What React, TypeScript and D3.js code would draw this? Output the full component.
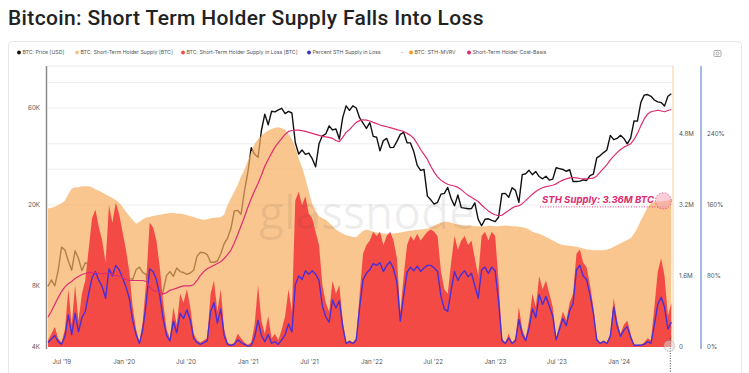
import React from 'react';
import * as d3 from 'd3';

// sampled every 10 days starting 21 May 2019
const startDate = new Date(2019, 4, 21);
const stepDays = 10;

// BTC price [USD]
const btcPrice = [
  7950, 8550, 8000, 9500, 12400, 12000, 10600, 9550, 11900, 10900,
  9500, 10400, 10200, 8200, 8200, 7950, 9250, 9200, 8500, 7500,
  7500, 6650, 7250, 7750, 8700, 8600, 9600, 9900, 9300, 9100,
  5000, 6700, 6800, 6650, 7550, 9000, 9400, 8900, 9800, 9400,
  9300, 9100, 9250, 9550, 11200, 11700, 11650, 11400, 10450, 10450,
  10600, 11500, 12900, 13750, 15300, 18700, 18800, 18000, 23500, 29000,
  38300, 35500, 34300, 46500, 56000, 49600, 57800, 57400, 58800, 59800,
  56300, 57700, 56700, 40600, 35600, 37300, 35500, 36000, 33800, 30800,
  40000, 43800, 44700, 49000, 46800, 47300, 42200, 53800, 61500, 58400,
  61500, 60000, 53600, 50600, 47600, 50800, 43500, 43100, 36900, 41500,
  42500, 38300, 38400, 41100, 44500, 45500, 40500, 40400, 36500, 31300,
  29600, 29900, 22100, 21200, 20200, 20600, 22600, 22800, 24400, 21500,
  19800, 22400, 19400, 19300, 19150, 19200, 20500, 17000, 15800, 17000,
  17100, 16800, 16550, 17400, 22700, 22800, 21800, 24300, 23600, 20600,
  28200, 28500, 29600, 28200, 29200, 27600, 26900, 27700, 26500, 26800,
  30500, 30200, 29900, 29300, 29800, 26100, 26100, 26200, 26600, 26400,
  27900, 28400, 34100, 35000, 36200, 37300, 44000, 41900, 42500, 44100,
  42500, 40000, 42600, 51800, 51700, 63800, 69400, 69900, 68500, 65700,
  64300, 63800, 61300, 68500, 70500,
];

// Short-Term Holder cost basis [USD]
const sthCostBasis = [
  5600, 6000, 6500, 7000, 7500, 7900, 8200, 8400, 8700, 8900,
  9100, 9200, 9300, 9300, 9300, 9200, 9200, 9200, 9200, 9100,
  9000, 8900, 8800, 8600, 8500, 8500, 8500, 8500, 8500, 8400,
  7900, 7600, 7500, 7400, 7300, 7400, 7600, 7700, 7800, 7900,
  8000, 8000, 8000, 8100, 8500, 9000, 9400, 9700, 9900, 10100,
  10300, 10500, 10900, 11400, 12000, 13000, 14300, 15800, 17500, 19500,
  21500, 23500, 25500, 28000, 31000, 33500, 36000, 38500, 40500, 42500,
  44500, 46000, 46500, 46700, 46700, 46400, 46000, 45500, 45000, 44500,
  44000, 43500, 43300, 43000, 42500, 41500, 41000, 43000, 45500, 47000,
  49000, 51000, 52000, 52500, 52300, 51800, 51000, 50300, 49500, 49000,
  48500, 48000, 47500, 47000, 46500, 46000, 45000, 44000, 42500, 40000,
  37500, 35500, 33500, 31000, 29000, 27500, 26500, 25800, 25300, 25000,
  24800, 24400, 23800, 23000, 22300, 21800, 21300, 20800, 20000, 19300,
  18700, 18200, 17900, 17700, 17800, 18300, 18800, 19300, 19700, 19800,
  20300, 21000, 21800, 22600, 23300, 23900, 24300, 24600, 24800, 25000,
  25400, 26000, 26500, 26900, 27200, 27300, 27200, 27000, 26900, 26900,
  27000, 27100, 27800, 29000, 30300, 31600, 33300, 34800, 36200, 37500,
  38500, 39200, 40000, 42000, 45000, 49000, 53000, 56000, 57500, 58000,
  58500, 58000, 57500, 58300, 59000,
];

// Short-Term Holder supply [M BTC]
const sthSupply = [
  3.12, 3.14, 3.16, 3.2, 3.24, 3.3, 3.45, 3.57, 3.6, 3.6,
  3.62, 3.62, 3.62, 3.6, 3.55, 3.52, 3.48, 3.44, 3.4, 3.36,
  3.31, 3.25, 3.16, 3.05, 2.95, 2.86, 2.78, 2.82, 2.88, 2.92,
  2.93, 2.95, 2.97, 2.98, 3.0, 3.01, 3.02, 3.02, 3.01, 3.01,
  2.99, 2.97, 2.95, 2.93, 2.9, 2.88, 2.87, 2.88, 2.9, 2.91,
  2.92, 2.93, 2.98, 3.2, 3.35, 3.5, 3.65, 3.85, 4.0, 4.2,
  4.4, 4.58, 4.68, 4.76, 4.83, 4.88, 4.91, 4.94, 4.95, 4.93,
  4.9, 4.8, 4.68, 4.5, 4.25, 4.05, 3.8, 3.5, 3.22, 3.05,
  2.95, 2.9, 2.87, 2.8, 2.72, 2.65, 2.6, 2.56, 2.52, 2.5,
  2.48, 2.48, 2.55, 2.62, 2.64, 2.63, 2.6, 2.58, 2.57, 2.56,
  2.55, 2.55, 2.56, 2.57, 2.58, 2.6, 2.61, 2.62, 2.63, 2.64,
  2.65, 2.66, 2.67, 2.7, 2.74, 2.77, 2.8, 2.82, 2.82, 2.8,
  2.78, 2.76, 2.75, 2.74, 2.74, 2.73, 2.72, 2.72, 2.71, 2.72,
  2.73, 2.73, 2.72, 2.72, 2.73, 2.74, 2.73, 2.72, 2.72, 2.71,
  2.7, 2.68, 2.65, 2.6, 2.57, 2.55, 2.52, 2.48, 2.44, 2.4,
  2.36, 2.32, 2.3, 2.29, 2.28, 2.27, 2.26, 2.24, 2.22, 2.2,
  2.19, 2.18, 2.18, 2.18, 2.18, 2.2, 2.22, 2.26, 2.3, 2.34,
  2.38, 2.41, 2.45, 2.55, 2.68, 2.85, 3.0, 3.15, 3.24, 3.27,
  3.28, 3.28, 3.29, 3.3, 3.33,
];

// Short-Term Holder supply in loss [M BTC]
const sthLoss = [
  0.15, 0.3, 0.45, 0.2, 0.1, 0.4, 1.3, 0.5, 1.4, 0.6,
  1.2, 1.5, 2.2, 2.9, 3.1, 2.7, 2.4, 1.9, 3.2, 2.8,
  3.25, 3.0, 2.6, 2.2, 1.7, 0.9, 0.4, 0.1, 0.6, 1.5,
  2.8, 2.7, 2.4, 1.8, 1.0, 0.4, 0.2, 0.9, 0.5, 1.2,
  1.0, 1.3, 0.9, 0.3, 0.15, 0.1, 0.15, 0.2, 1.2, 1.5,
  0.8, 1.3, 0.4, 0.1, 0.05, 0.1, 0.3, 0.2, 0.1, 0.05,
  0.1, 0.5, 1.4, 0.6, 0.3, 0.7, 0.2, 0.3, 0.15, 0.4,
  0.7, 1.3, 0.8, 3.3, 3.5, 3.2, 3.4, 3.0, 2.9, 2.6,
  2.3, 1.4, 1.0, 0.8, 1.5, 1.2, 1.4, 0.6, 0.1, 0.15,
  0.1, 0.2, 1.2, 2.1, 2.3, 2.4, 2.6, 2.5, 2.6, 2.3,
  2.5, 2.6, 2.4, 2.0, 0.8, 1.6, 2.3, 2.5, 2.4, 2.55,
  2.4, 2.5, 2.6, 2.65, 2.6, 2.5, 1.7, 1.3, 1.2, 1.9,
  2.5, 2.2, 2.4, 2.5, 2.3, 2.4, 2.0, 1.6, 2.5, 2.6,
  2.4, 2.6, 2.5, 1.5, 0.2, 0.1, 0.3, 0.1, 0.2, 0.9,
  0.4, 0.2, 0.6, 1.2, 0.9, 1.6, 1.3, 1.5, 1.2, 0.9,
  0.2, 0.5, 0.8, 0.6, 1.0, 1.2, 2.1, 2.2, 1.9, 1.8,
  1.4, 0.9, 0.2, 0.1, 0.15, 0.1, 0.3, 1.1, 0.6, 0.3,
  0.5, 0.6, 0.3, 0.05, 0.05, 0.05, 0.1, 0.2, 0.15, 0.9,
  1.7, 2.0, 1.6, 0.7, 1.0,
];

// Percent STH supply in loss [%]
const pctInLoss = [
  5, 9, 13, 6, 3, 12, 36, 14, 38, 17,
  33, 40, 60, 78, 85, 75, 68, 55, 88, 80,
  92, 87, 78, 68, 55, 30, 14, 4, 20, 50,
  88, 85, 76, 58, 32, 13, 7, 29, 16, 38,
  32, 42, 30, 10, 5, 3, 5, 7, 40, 50,
  27, 43, 13, 3, 2, 3, 8, 5, 3, 1,
  2, 11, 30, 13, 6, 14, 4, 6, 3, 8,
  14, 26, 17, 70, 80, 76, 86, 82, 86, 82,
  75, 46, 34, 28, 53, 44, 52, 23, 4, 6,
  4, 8, 45, 76, 83, 87, 94, 92, 95, 85,
  92, 96, 88, 73, 29, 58, 84, 90, 86, 91,
  85, 89, 92, 92, 89, 85, 57, 43, 40, 64,
  85, 75, 82, 86, 79, 83, 69, 55, 87, 90,
  83, 90, 86, 52, 7, 4, 10, 4, 7, 31,
  14, 7, 21, 43, 33, 59, 48, 57, 46, 35,
  8, 20, 32, 24, 41, 49, 87, 92, 80, 76,
  59, 38, 8, 4, 6, 4, 12, 45, 24, 12,
  19, 23, 11, 2, 2, 2, 3, 6, 4, 25,
  48, 56, 45, 20, 28,
];

const priceTicks = [60000, 20000, 8000, 4000];
const priceTickLabels = ['60K', '20K', '8K', '4K'];
const priceGrid = [80000, 60000, 40000, 30000, 20000];
const supplyTicks = [0, 1.6, 3.2, 4.8];
const supplyTickLabels = ['0', '1.6M', '3.2M', '4.8M'];
const pctTicks = [0, 80, 160, 240];
const pctTickLabels = ['0%', '80%', '160%', '240%'];
const xTickDates = [
  new Date(2019, 6, 1), new Date(2020, 0, 1), new Date(2020, 6, 1), new Date(2021, 0, 1),
  new Date(2021, 6, 1), new Date(2022, 0, 1), new Date(2022, 6, 1), new Date(2023, 0, 1),
  new Date(2023, 6, 1), new Date(2024, 0, 1),
];
const xTickLabels = ["Jul '19", "Jan '20", "Jul '20", "Jan '21", "Jul '21", "Jan '22", "Jul '22", "Jan '23", "Jul '23", "Jan '24"];

const legendLabels = [
  'BTC: Price [USD]',
  'BTC: Short-Term Holder Supply [BTC]',
  'BTC: Short-Term Holder Supply in Loss [BTC]',
  'Percent STH Supply in Loss',
  'BTC: STH-MVRV',
  'Short-Term Holder Cost-Basis',
];
const legendColors = ['#111111', '#f9c48c', '#f04a4a', '#3535c8', '#f0952a', '#e0206e'];
const legendX = [19, 77, 183, 309, 411, 469];

const W = 749;
const H = 373;
const plot = { left: 48, right: 673, top: 66, bottom: 347 };
const font = 'Inter, "Noto Sans", sans-serif';

const App: React.FC = () => {
  const dates = btcPrice.map((_, i) => d3.timeDay.offset(startDate, i * stepDays));

  const x = d3.scaleTime().domain([startDate, new Date(2024, 5, 8)]).range([plot.left, plot.right]);
  const yPrice = d3.scaleLog().domain([4000, 60000]).range([plot.bottom, 108]);
  const ySupply = d3.scaleLinear().domain([0, 3.2]).range([plot.bottom, 205]);
  const yPct = d3.scaleLinear().domain([0, 160]).range([plot.bottom, 205]);

  const idx = d3.range(dates.length);
  const priceLine = d3.line<number>().x((i) => x(dates[i])).y((i) => yPrice(btcPrice[i]))(idx) || '';
  const costLine = d3.line<number>().x((i) => x(dates[i])).y((i) => yPrice(sthCostBasis[i]))(idx) || '';
  const supplyArea = d3.area<number>().x((i) => x(dates[i])).y0(ySupply(0)).y1((i) => ySupply(sthSupply[i]))(idx) || '';
  const lossArea = d3.area<number>().x((i) => x(dates[i])).y0(ySupply(0)).y1((i) => ySupply(sthLoss[i]))(idx) || '';
  const pctLine = d3.line<number>().x((i) => x(dates[i])).y((i) => yPct(pctInLoss[i]))(idx) || '';

  const last = dates.length - 1;
  const lastX = x(dates[last]);
  const annY = ySupply(3.36);

  return (
    <svg width={W} height={H} style={{ position: 'absolute', left: 0, top: 0, background: '#fff' }}>
      <text x={8} y={25} fontFamily="Roboto, sans-serif" fontWeight={500} fontSize={21} letterSpacing={0.35} fill="#222">
        Bitcoin: Short Term Holder Supply Falls Into Loss
      </text>

      <rect x={8.5} y={41.5} width={733} height={345} rx={4} fill="#fff" stroke="#e6e6e6" />

      {/* legend */}
      {legendLabels.map((l, i) => (
        <g key={l} fontFamily={font} fontSize={5.2} fill="#555">
          <circle cx={legendX[i]} cy={52.5} r={1.9} fill={legendColors[i]} />
          <text x={legendX[i] + 3.5} y={54.3}>{l}</text>
        </g>
      ))}
      <text x={401} y={54.3} fontFamily={font} fontSize={5.2} fill="#777">-</text>
      <g stroke="#999" fill="none" strokeWidth={0.8}>
        <rect x={714} y={50.5} width={7} height={6} rx={1} />
        <circle cx={717.5} cy={53.5} r={1.5} />
      </g>

      {/* grid */}
      <line x1={plot.left} x2={plot.right} y1={plot.top} y2={plot.top} stroke="#ececec" />
      {priceGrid.map((p) => (
        <line key={p} x1={plot.left} x2={plot.right} y1={yPrice(p)} y2={yPrice(p)} stroke="#ededed" />
      ))}

      <path d={priceLine} fill="none" stroke="#111" strokeWidth={1.4} strokeLinejoin="round" />
      <path d={supplyArea} fill="#f7ae5f" fillOpacity={0.7} />
      <path d={lossArea} fill="#f44a45" />
      <path d={pctLine} fill="none" stroke="#4a2fd6" strokeWidth={1.4} strokeLinejoin="round" />
      <path d={costLine} fill="none" stroke="#de2c72" strokeWidth={1.2} strokeLinejoin="round" />

      <text x={259} y={229} fontFamily='"Open Sans", sans-serif' fontSize={46} fill="#444" fillOpacity={0.09}>
        glassnode
      </text>

      {/* axes */}
      <line x1={46.5} x2={46.5} y1={plot.top} y2={plot.bottom + 2} stroke="#8a8a8a" strokeWidth={1.5} />
      <line x1={plot.right} x2={plot.right} y1={plot.top} y2={plot.bottom + 2} stroke="#f8cf9f" strokeWidth={1} />
      <line x1={701} x2={701} y1={plot.top} y2={plot.bottom + 2} stroke="#8fa8e0" strokeWidth={1.6} />

      <g fontFamily={font} fontSize={6.2} fill="#555">
        {priceTicks.map((t, i) => (
          <text key={t} x={40} y={yPrice(t) + 2} textAnchor="end">{priceTickLabels[i]}</text>
        ))}
        {supplyTicks.map((t, i) => (
          <text key={t} x={679} y={ySupply(t) + 2}>{supplyTickLabels[i]}</text>
        ))}
        {pctTicks.map((t, i) => (
          <text key={t} x={707} y={yPct(t) + 2}>{pctTickLabels[i]}</text>
        ))}
        {xTickDates.map((d, i) => (
          <text key={i} x={x(d)} y={364} textAnchor="middle">{xTickLabels[i]}</text>
        ))}
      </g>

      {/* annotation */}
      <line x1={540} x2={lastX - 4} y1={annY + 9} y2={annY + 9} stroke="#e0206e" strokeWidth={0.9} strokeDasharray="1,1.6" />
      <text x={542} y={annY + 5} fontFamily={font} fontSize={9.6} fontWeight={700} fontStyle="italic" fill="#de2c72">
        STH Supply: 3.36M BTC
      </text>
      <circle cx={lastX - 8} cy={annY + 3} r={8} fill="#f4a6b8" fillOpacity={0.55} stroke="#e0206e" strokeWidth={0.7} strokeDasharray="1.5,1.5" />

      <line x1={lastX - 1} x2={lastX - 1} y1={338} y2={H} stroke="#333" strokeWidth={0.9} strokeDasharray="1,1.5" />
      <circle cx={lastX - 2} cy={plot.bottom - 1} r={5.5} fill="#ddd" fillOpacity={0.5} stroke="#888" strokeWidth={0.6} strokeDasharray="1.2,1.2" />
    </svg>
  );
};

export default App;
